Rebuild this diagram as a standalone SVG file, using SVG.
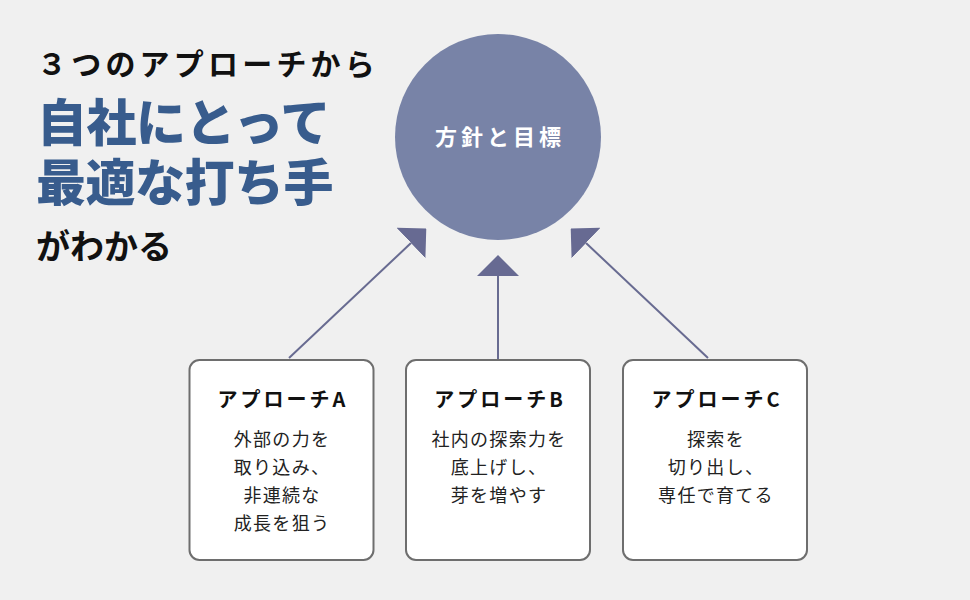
<svg xmlns="http://www.w3.org/2000/svg" width="970" height="600" viewBox="0 0 970 600">
  <style>
    text { font-family: "Noto Sans CJK JP", "Noto Sans", sans-serif; }
    .h1 { font-size: 30px; font-weight: 700; fill: #111111; letter-spacing: 4.2px; }
    .h2 { font-size: 50px; font-weight: 900; fill: #385c8d; letter-spacing: -0.5px; }
    .h3 { font-size: 34px; font-weight: 700; fill: #111111; }
    .box { fill: #ffffff; stroke: #6e6e6e; stroke-width: 2; }
    .ttl { font-size: 20px; font-weight: 700; fill: #111111; text-anchor: middle; letter-spacing: 3px; }
    .body { font-size: 18px; font-weight: 400; fill: #222222; text-anchor: middle; letter-spacing: 1.3px; }
    .circ { fill: #7883a7; }
    .ctext { font-size: 22px; font-weight: 700; fill: #ffffff; text-anchor: middle; letter-spacing: 4px; }
    .conn { stroke: #686b91; stroke-width: 2; fill: none; marker-end: url(#arrow); }
  </style>
  <defs>
    <marker id="arrow" markerUnits="userSpaceOnUse" viewBox="0 -21 21 42" markerWidth="21" markerHeight="42" refX="0" refY="0" orient="auto">
      <path d="M0,-21 L21,0 L0,21 Z" fill="#676a92"/>
    </marker>
  </defs>
  <rect width="970" height="600" fill="#f0f0f0"/>

  <g id="headline">
    <text class="h1" x="37" y="75">３つのアプローチから</text>
    <text class="h2" x="37" y="141">自社にとって</text>
    <text class="h2" x="36" y="201">最適な打ち手</text>
    <text class="h3" x="36" y="259">がわかる</text>
  </g>

  <g id="connectors">
    <line class="conn" x1="289" y1="358" x2="411" y2="243"/>
    <line class="conn" x1="498" y1="360" x2="498" y2="276"/>
    <line class="conn" x1="708" y1="358" x2="586" y2="243"/>
  </g>

  <g id="goal">
    <circle class="circ" cx="498" cy="137" r="103"/>
    <text class="ctext" x="500" y="145">方針と目標</text>
  </g>

  <g id="approachA">
    <rect class="box" x="189.5" y="360" width="184" height="200" rx="10"/>
    <text class="ttl" x="283" y="407">アプローチA</text>
    <text class="body" x="282" y="446">外部の力を</text>
    <text class="body" x="282" y="474">取り込み、</text>
    <text class="body" x="282" y="502">非連続な</text>
    <text class="body" x="282" y="530">成長を狙う</text>
  </g>

  <g id="approachB">
    <rect class="box" x="406" y="360" width="184" height="200" rx="10"/>
    <text class="ttl" x="500" y="407">アプローチB</text>
    <text class="body" x="499" y="446">社内の探索力を</text>
    <text class="body" x="499" y="474">底上げし、</text>
    <text class="body" x="499" y="502">芽を増やす</text>
  </g>

  <g id="approachC">
    <rect class="box" x="623" y="360" width="184" height="200" rx="10"/>
    <text class="ttl" x="717" y="407">アプローチC</text>
    <text class="body" x="716" y="446">探索を</text>
    <text class="body" x="716" y="474">切り出し、</text>
    <text class="body" x="716" y="502">専任で育てる</text>
  </g>
</svg>
